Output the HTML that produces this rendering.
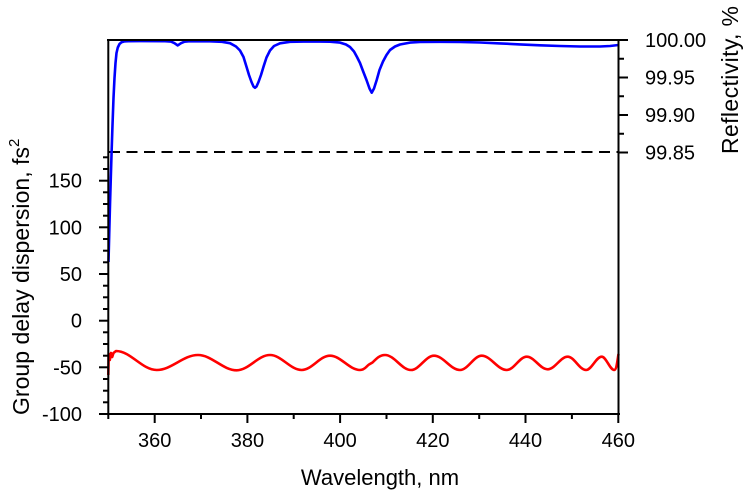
<!DOCTYPE html>
<html><head><meta charset="utf-8"><style>
html,body{margin:0;padding:0;background:#fff;}
svg{display:block;}
text{font-family:"Liberation Sans",sans-serif;fill:#000;}
</style></head><body>
<svg width="745" height="500" viewBox="0 0 745 500" xmlns="http://www.w3.org/2000/svg">
<rect width="745" height="500" fill="#fff"/>
<!-- dashed line -->
<line x1="109" y1="152" x2="618" y2="152" stroke="#000" stroke-width="2" stroke-dasharray="11 6.5"/>
<!-- blue reflectivity -->
<polyline fill="none" stroke="#0000ff" stroke-width="2.6" stroke-linejoin="round" points="108.5,262 109.2,235 110,205 110.8,178 111.6,152 112.5,125 113.5,98 114.5,78 115.5,63 116.5,53 117.8,47.5 119.5,44 121.5,42.3 124,41.5 128,41.2 140,41.1 165,41.2 171,41.6 174.5,43.2 177.7,45.4 181,43.2 184.5,41.7 190,41.2 210,41.3 222,41.8 230,43.2 236,46.5 240,50.5 243.5,57 246.5,66.7 249,75 251.5,82 253.5,86.5 255,87.8 256.5,86.5 258.5,82 261,75 263.5,66.7 266.5,57.5 270,50.5 274,46 280,43.3 290,41.8 310,41.5 330,41.7 340,42.6 346,44.5 350,47 354,51.5 357,57 360,63 363,71 366.5,80 369.5,88.5 371.7,92.7 374,88.5 376.7,80 379.5,70 383,61.5 386.5,55 390,50 395,46.5 400,44.5 410,42.6 420,42 440,41.8 460,42 480,42.5 500,43.4 520,44.4 540,45.3 560,46 580,46.5 600,46.5 610,46 618.5,45"/>
<!-- red GDD -->
<path fill="none" stroke="#ff0000" stroke-width="2.6" stroke-linejoin="round" d="M108.3,375 L108.7,354 L109.8,360 L111,353 L112.2,357 L113.5,353 L116,351
C130.7,351 142,370 156.7,370
C171.6,370 183.1,355 198,355
C211.9,355 222.8,370.3 236.7,370.3
C248.7,370.3 258,355 270,355
C281.4,355 290.3,370 301.7,370
C311.9,370 319.8,355.7 330,355.7
C340.8,355.7 349.2,370 360,370
C365,370 367,365.5 369,364.5 L372.5,362.5 C377,358 380,355 385,355
C394.4,355 401.6,370 411,370
C419.3,370 425.7,355.7 434,355.7
C443.4,355.7 450.6,370 460,370
C467.8,370 473.9,355.7 481.7,355.7
C490.7,355.7 497.7,370 506.7,370
C513.9,370 519.5,356.7 526.7,356.7
C534.3,356.7 540.1,369.3 547.7,369.3
C554.9,369.3 560.5,356.7 567.7,356.7
C574.3,356.7 579.4,370 586,370
C591.7,370 596,356.7 601.7,356.7
C606.2,356.7 609.8,370 614.3,370
C616.5,370 617.5,360 618.5,354"/>
<!-- frame -->
<g stroke="#000" stroke-width="2" fill="none">
<line x1="107" y1="40" x2="620" y2="40"/>
<line x1="108.3" y1="39" x2="108.3" y2="415"/>
<line x1="618.5" y1="39" x2="618.5" y2="415"/>
<line x1="107" y1="414" x2="620" y2="414"/>
</g>
<!-- left ticks -->
<g stroke="#000" stroke-width="2">
<line x1="99" y1="414" x2="108" y2="414"/>
<line x1="99" y1="367.3" x2="108" y2="367.3"/>
<line x1="99" y1="320.7" x2="108" y2="320.7"/>
<line x1="99" y1="274" x2="108" y2="274"/>
<line x1="99" y1="227.3" x2="108" y2="227.3"/>
<line x1="99" y1="180.7" x2="108" y2="180.7"/>
<line x1="103" y1="402.3" x2="108" y2="402.3"/>
<line x1="103" y1="390.7" x2="108" y2="390.7"/>
<line x1="103" y1="379" x2="108" y2="379"/>
<line x1="103" y1="355.7" x2="108" y2="355.7"/>
<line x1="103" y1="344" x2="108" y2="344"/>
<line x1="103" y1="332.3" x2="108" y2="332.3"/>
<line x1="103" y1="309" x2="108" y2="309"/>
<line x1="103" y1="297.3" x2="108" y2="297.3"/>
<line x1="103" y1="285.7" x2="108" y2="285.7"/>
<line x1="103" y1="262.3" x2="108" y2="262.3"/>
<line x1="103" y1="250.7" x2="108" y2="250.7"/>
<line x1="103" y1="239" x2="108" y2="239"/>
<line x1="103" y1="215.7" x2="108" y2="215.7"/>
<line x1="103" y1="204" x2="108" y2="204"/>
<line x1="103" y1="192.3" x2="108" y2="192.3"/>
<line x1="103" y1="169" x2="108" y2="169"/>
<line x1="103" y1="157.3" x2="108" y2="157.3"/>
</g>
<!-- right ticks -->
<g stroke="#000" stroke-width="2">
<line x1="619" y1="40" x2="628" y2="40"/>
<line x1="619" y1="77.5" x2="628" y2="77.5"/>
<line x1="619" y1="115" x2="628" y2="115"/>
<line x1="619" y1="152.5" x2="628" y2="152.5"/>
<line x1="619" y1="58.75" x2="624" y2="58.75"/>
<line x1="619" y1="96.25" x2="624" y2="96.25"/>
<line x1="619" y1="133.75" x2="624" y2="133.75"/>
</g>
<!-- bottom ticks -->
<g stroke="#000" stroke-width="2">
<line x1="108.3" y1="414" x2="108.3" y2="419"/>
<line x1="154.7" y1="414" x2="154.7" y2="423"/>
<line x1="201" y1="414" x2="201" y2="419"/>
<line x1="247.4" y1="414" x2="247.4" y2="423"/>
<line x1="293.7" y1="414" x2="293.7" y2="419"/>
<line x1="340.1" y1="414" x2="340.1" y2="423"/>
<line x1="386.5" y1="414" x2="386.5" y2="419"/>
<line x1="432.8" y1="414" x2="432.8" y2="423"/>
<line x1="479.2" y1="414" x2="479.2" y2="419"/>
<line x1="525.5" y1="414" x2="525.5" y2="423"/>
<line x1="571.9" y1="414" x2="571.9" y2="419"/>
<line x1="618.3" y1="414" x2="618.3" y2="423"/>
</g>
<!-- left labels -->
<g font-size="20" text-anchor="end">
<text x="82" y="421">-100</text>
<text x="82" y="374.3">-50</text>
<text x="82" y="327.7">0</text>
<text x="82" y="281">50</text>
<text x="82" y="234.3">100</text>
<text x="82" y="187.7">150</text>
</g>
<!-- right labels -->
<g font-size="20" text-anchor="start">
<text x="645" y="47">100.00</text>
<text x="645" y="84.5">99.95</text>
<text x="645" y="122">99.90</text>
<text x="645" y="159.5">99.85</text>
</g>
<!-- bottom labels -->
<g font-size="20" text-anchor="middle">
<text x="154.7" y="447">360</text>
<text x="247.4" y="447">380</text>
<text x="340.1" y="447">400</text>
<text x="432.8" y="447">420</text>
<text x="525.5" y="447">440</text>
<text x="618.3" y="447">460</text>
</g>
<!-- titles -->
<text x="380" y="485" font-size="22" text-anchor="middle">Wavelength, nm</text>
<text transform="translate(29,415) rotate(-90)" font-size="23"><tspan textLength="268" lengthAdjust="spacing">Group delay dispersion, fs</tspan><tspan font-size="15" dy="-10">2</tspan></text>
<text transform="translate(738,154) rotate(-90)" font-size="23" textLength="148" lengthAdjust="spacing">Reflectivity, %</text>
</svg>
</body></html>
